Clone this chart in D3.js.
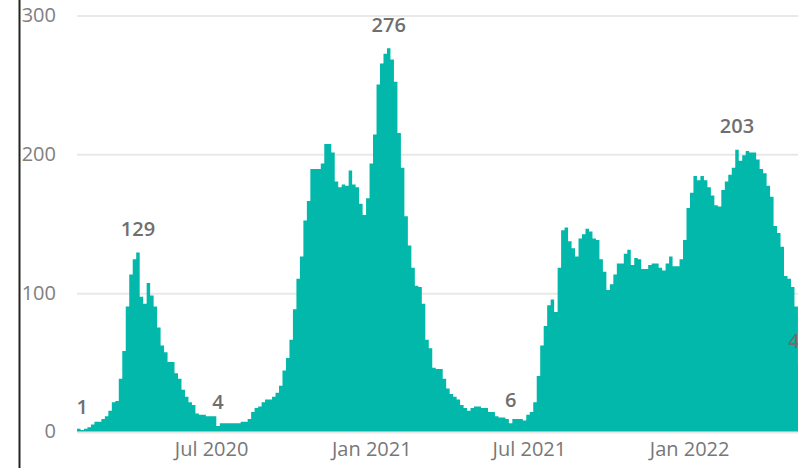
<!DOCTYPE html>
<html>
<head>
<meta charset="utf-8">
<script src="https://cdn.jsdelivr.net/npm/d3@7"></script>
<style>
  html, body { margin: 0; padding: 0; background: #fff; overflow: hidden; }
  svg { display: block; }
  text { font-family: "Segoe UI", "Open Sans", sans-serif; }
</style>
</head>
<body>
<svg id="chart" width="798" height="468"></svg>
<script>
// one value per 4-day period, first period starts 29 Jan 2020
const startDate = new Date(2020, 0, 29);
const stepDays = 4;
const admissions = [
  2, 1, 2, 3, 5, 7, 7, 9, 11, 15,
  21, 22, 38, 58, 90, 113, 124, 129, 97, 92,
  107, 98, 90, 75, 62, 57, 50, 50, 42, 38,
  30, 25, 21, 19, 13, 12, 12, 11, 11, 11,
  4, 6, 6, 6, 6, 6, 6, 7, 7, 9,
  14, 17, 18, 21, 23, 23, 25, 28, 33, 44,
  53, 66, 88, 110, 126, 152, 166, 189, 189, 189,
  193, 207, 207, 201, 180, 176, 178, 177, 188, 178,
  176, 164, 156, 168, 193, 214, 250, 265, 272, 276,
  268, 252, 215, 190, 155, 134, 118, 105, 104, 92,
  66, 60, 46, 45, 45, 38, 31, 27, 25, 23,
  19, 17, 15, 17, 18, 18, 17, 17, 14, 14,
  11, 10, 10, 9, 6, 9, 9, 9, 8, 12,
  14, 21, 40, 62, 76, 91, 95, 86, 118, 145,
  147, 137, 132, 126, 139, 142, 146, 144, 139, 138,
  124, 115, 102, 106, 113, 121, 121, 128, 131, 120,
  125, 124, 117, 117, 120, 121, 121, 118, 116, 121,
  126, 119, 119, 124, 138, 161, 172, 184, 181, 184,
  181, 176, 170, 163, 162, 174, 180, 185, 190, 203,
  195, 199, 202, 201, 201, 196, 189, 186, 177, 169,
  148, 143, 133, 112, 110, 104, 90, 48
];
const yTicks = [0, 100, 200, 300];
const xTickDates = [new Date(2020, 6, 1), new Date(2021, 0, 1), new Date(2021, 6, 1), new Date(2022, 0, 1)];
const labelIndex = [1, 17, 40, 89, 124, 189, 207];

const teal = "#01B8AA";
const svg = d3.select("#chart");

const periodStart = i => d3.timeDay.offset(startDate, i * stepDays);
const endDate = periodStart(admissions.length);
const pxPerDay = 0.8707;
const nDays = d3.timeDay.count(startDate, endDate);

const x = d3.scaleTime()
  .domain([startDate, endDate])
  .range([77, 77 + nDays * pxPerDay]);
const y = d3.scaleLinear().domain([0, 300]).range([431.5, 15]);

// left border line
svg.append("line")
  .attr("x1", 19.5).attr("x2", 19.5)
  .attr("y1", 0).attr("y2", 468)
  .attr("stroke", "#252423").attr("stroke-width", 2);

// gridlines + y labels
const yAxis = d3.axisLeft(y).tickValues(yTicks).tickSize(0).tickPadding(0);
const gy = svg.append("g").attr("transform", "translate(56,0)").call(yAxis);
gy.select(".domain").remove();
gy.selectAll("text")
  .attr("fill", "#808080")
  .attr("font-size", 20)
  .attr("font-family", "'Segoe UI', 'Open Sans', sans-serif");

svg.append("g").selectAll("line")
  .data(yTicks)
  .join("line")
  .attr("x1", 77).attr("x2", 798)
  .attr("y1", d => y(d) + 1).attr("y2", d => y(d) + 1)
  .attr("stroke", "#e8e8e8").attr("stroke-width", 2);

// columns, drawn as one stepped shape so there are no seams between them
const idx = d3.range(admissions.length + 1);
const columns = d3.area()
  .curve(d3.curveStepAfter)
  .x(i => x(periodStart(i)))
  .y0(y(0))
  .y1(i => y(admissions[Math.min(i, admissions.length - 1)]));

svg.append("path")
  .datum(idx)
  .attr("d", columns)
  .attr("fill", teal);

// x labels
const xAxis = d3.axisBottom(x).tickValues(xTickDates).tickFormat(d3.timeFormat("%b %Y")).tickSize(0).tickPadding(0);
const gx = svg.append("g").attr("transform", "translate(0,442)").call(xAxis);
gx.select(".domain").remove();
gx.selectAll("text")
  .attr("fill", "#777")
  .attr("font-size", 20)
  .attr("font-family", "'Segoe UI', 'Open Sans', sans-serif");

// data labels
svg.append("g").selectAll("text")
  .data(labelIndex)
  .join("text")
  .attr("x", i => (x(periodStart(i)) + x(periodStart(i + 1))) / 2)
  .attr("y", i => y(admissions[i]) - 16.5)
  .attr("text-anchor", "middle")
  .attr("font-size", 20)
  .attr("font-weight", 600)
  .attr("fill", "#6f6f6f")
  .text(i => admissions[i]);
</script>
</body>
</html>
